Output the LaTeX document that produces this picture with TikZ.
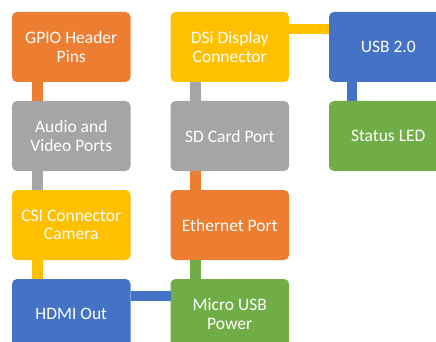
\documentclass[tikz,border=0pt]{standalone}
\usepackage{fontspec}
\setmainfont{Carlito}
\usetikzlibrary{positioning}

\definecolor{partorange}{HTML}{ED7D31}
\definecolor{partgray}{HTML}{A5A5A5}
\definecolor{partyellow}{HTML}{FFC000}
\definecolor{partblue}{HTML}{4472C4}
\definecolor{partgreen}{HTML}{70AD47}

\begin{document}
\begin{tikzpicture}[x=1pt, y=1pt,
    part/.style={rounded corners=5pt, minimum width=118.5pt, minimum height=70pt,
        inner sep=0pt, outer sep=0pt, text=white, align=center,
        font=\fontsize{17.5}{18.5}\selectfont},
    vlink/.style={line width=11pt},
    hlink/.style={line width=10pt}]
    \useasboundingbox (0,0) rectangle (436,-342);
    \clip (0,0) rectangle (436,-342);

    % first column
    \node[part, fill=partorange, anchor=north west] (gpio) at (12,-12) {GPIO Header\\Pins};
    \node[part, fill=partgray, below=19pt of gpio] (audio) {Audio and\\Video Ports};
    \node[part, fill=partyellow, below=19pt of audio] (csi) {CSI Connector\\Camera};
    \node[part, fill=partblue, below=19pt of csi] (hdmi) {HDMI Out};

    % second column
    \node[part, fill=partyellow, right=40pt of gpio] (dsi) {DSi Display\\Connector};
    \node[part, fill=partgray, below=19pt of dsi] (sdcard) {SD Card Port};
    \node[part, fill=partorange, below=19pt of sdcard] (ethernet) {Ethernet Port};
    \node[part, fill=partgreen, below=19pt of ethernet] (microusb) {Micro USB\\Power};

    % third column
    \node[part, fill=partblue, right=40pt of dsi] (usb) {USB 2.0};
    \node[part, fill=partgreen, below=19pt of usb] (led) {Status LED};

    % links
    \draw[vlink, draw=partorange] ([xshift=25pt]gpio.south west) -- ([xshift=25pt]audio.north west);
    \draw[vlink, draw=partgray] ([xshift=25pt]audio.south west) -- ([xshift=25pt]csi.north west);
    \draw[vlink, draw=partyellow] ([xshift=25pt]csi.south west) -- ([xshift=25pt]hdmi.north west);
    \draw[vlink, draw=partgray] ([xshift=25pt]dsi.south west) -- ([xshift=25pt]sdcard.north west);
    \draw[vlink, draw=partorange] ([xshift=25pt]sdcard.south west) -- ([xshift=25pt]ethernet.north west);
    \draw[vlink, draw=partgreen] ([xshift=25pt]ethernet.south west) -- ([xshift=25pt]microusb.north west);
    \draw[hlink, draw=partblue] ([xshift=23pt]usb.south west) -- ([xshift=23pt]led.north west);
    \draw[hlink, draw=partyellow] ([yshift=-17.5pt]dsi.north east) -- ([yshift=-17.5pt]usb.north west);
    \draw[hlink, draw=partblue] ([yshift=-17pt]hdmi.north east) -- ([yshift=-17pt]microusb.north west);
\end{tikzpicture}
\end{document}
